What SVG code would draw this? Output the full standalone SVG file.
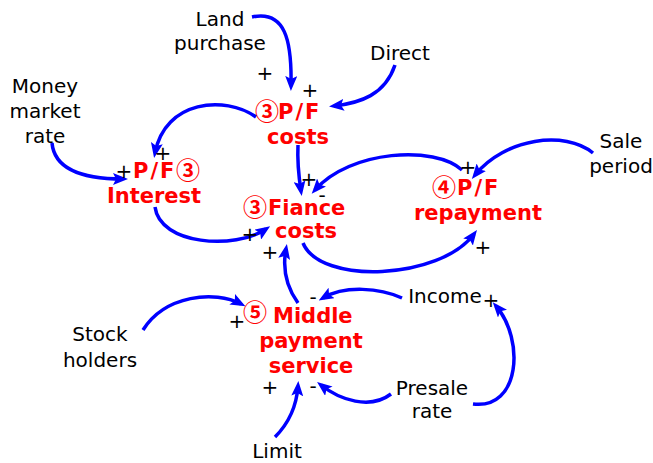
<svg xmlns="http://www.w3.org/2000/svg" width="653" height="463" viewBox="0 0 653 463">
  <style>
    .var { font-family: "DejaVu Sans", Verdana, sans-serif; font-size: 20px; fill: #000; text-anchor: middle; }
    .key { font-family: "DejaVu Sans", Verdana, sans-serif; font-size: 21px; font-weight: bold; fill: #FF0000; }
    .num { font-family: "Noto Sans CJK JP", "DejaVu Sans", sans-serif; font-size: 24px; font-weight: bold; }
    .pf { letter-spacing: 2px; }
    .mid { text-anchor: middle; }
    .link { fill: none; stroke: #0000FF; stroke-width: 3.5; marker-end: url(#head); }
    .sign { font-family: "DejaVu Sans", Verdana, sans-serif; font-size: 20px; fill: #000; text-anchor: middle; }
  </style>
  <defs>
    <marker id="head" viewBox="0 0 15 12" refX="10" refY="6" markerWidth="15" markerHeight="12" markerUnits="userSpaceOnUse" orient="auto">
      <path d="M0,0 L15,6 L0,12 L3,6 z" fill="#0000FF"/>
    </marker>
  </defs>

  <rect width="653" height="463" fill="#FFFFFF"/>

  <!-- causal links -->
  <g id="connectors">
    <path class="link" d="M252,17 C285,10 292,40 291,86"/>
    <path class="link" d="M395,65 C385,95 360,103 334,106"/>
    <path class="link" d="M256,117 C225,95 165,100 155,153"/>
    <path class="link" d="M52,143 C55,175 95,179 123,179"/>
    <path class="link" d="M298,145 C297,165 299,178 301,191"/>
    <path class="link" d="M462,170 C435,145 350,150 315,190"/>
    <path class="link" d="M593,153 C565,130 505,138 475,175"/>
    <path class="link" d="M155,207 C160,245 235,250 266,229"/>
    <path class="link" d="M303,243 C320,285 440,280 474,234"/>
    <path class="link" d="M298,303 C285,285 283,265 286,249"/>
    <path class="link" d="M143,330 C165,295 215,290 241,304"/>
    <path class="link" d="M402,298 C380,288 345,285 323,298"/>
    <path class="link" d="M391,394 C370,410 340,400 321,385"/>
    <path class="link" d="M473,404 C520,410 525,340 496,306"/>
    <path class="link" d="M275,437 C292,420 297,400 298,386"/>

    <!-- link polarities -->
    <text class="sign" x="265" y="80">+</text>
    <text class="sign" x="310" y="97">+</text>
    <text class="sign" x="163" y="160">+</text>
    <text class="sign" x="124" y="178">+</text>
    <text class="sign" x="309" y="186">+</text>
    <text class="sign" x="322" y="202">-</text>
    <text class="sign" x="468" y="174">+</text>
    <text class="sign" x="250" y="241">+</text>
    <text class="sign" x="270" y="259">+</text>
    <text class="sign" x="483" y="254">+</text>
    <text class="sign" x="237" y="328">+</text>
    <text class="sign" x="313" y="304">-</text>
    <text class="sign" x="270" y="394">+</text>
    <text class="sign" x="313" y="393">-</text>
    <text class="sign" x="491" y="307">+</text>
  </g>

  <!-- external variables -->
  <g id="land-purchase">
    <text class="var" x="220" y="26">Land</text>
    <text class="var" x="220" y="50">purchase</text>
  </g>
  <g id="direct">
    <text class="var" x="400" y="60">Direct</text>
  </g>
  <g id="money-market-rate">
    <text class="var" x="45" y="93">Money</text>
    <text class="var" x="45" y="118">market</text>
    <text class="var" x="45" y="143">rate</text>
  </g>
  <g id="sale-period">
    <text class="var" x="621" y="148">Sale</text>
    <text class="var" x="621" y="173">period</text>
  </g>
  <g id="stock-holders">
    <text class="var" x="100" y="341">Stock</text>
    <text class="var" x="100" y="367">holders</text>
  </g>
  <g id="limit">
    <text class="var" x="277" y="458">Limit</text>
  </g>
  <g id="income">
    <text class="var" x="445" y="303">Income</text>
  </g>
  <g id="presale-rate">
    <text class="var" x="432" y="395">Presale</text>
    <text class="var" x="432" y="418">rate</text>
  </g>

  <!-- key variables -->
  <g id="pf-costs">
    <text class="key" x="255" y="120"><tspan class="num">③</tspan><tspan class="pf" x="278" y="119">P/F</tspan></text>
    <text class="key mid" x="298" y="144">costs</text>
  </g>
  <g id="pf-interest">
    <text class="key" x="133" y="178"><tspan class="pf">P/F</tspan><tspan class="num" x="176" y="179">③</tspan></text>
    <text class="key mid" x="154" y="203">Interest</text>
  </g>
  <g id="fiance-costs">
    <text class="key" x="243" y="216"><tspan class="num">③</tspan><tspan x="268" y="215">Fiance</tspan></text>
    <text class="key mid" x="306" y="238">costs</text>
  </g>
  <g id="pf-repayment">
    <text class="key" x="432" y="196"><tspan class="num">④</tspan><tspan class="pf" x="457" y="195">P/F</tspan></text>
    <text class="key mid" x="478" y="220">repayment</text>
  </g>
  <g id="middle-payment-service">
    <text class="key" x="243" y="321"><tspan class="num">⑤</tspan><tspan x="273" y="323">Middle</tspan></text>
    <text class="key mid" x="311" y="348">payment</text>
    <text class="key mid" x="311" y="373">service</text>
  </g>
</svg>
